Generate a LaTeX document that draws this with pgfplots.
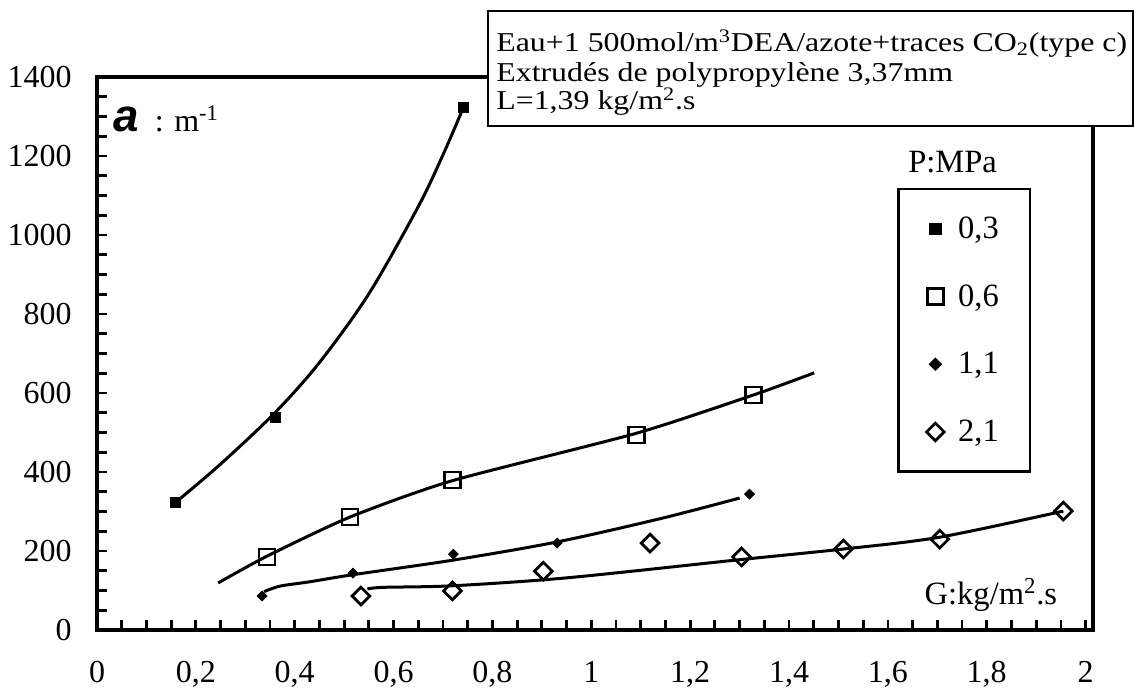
\documentclass[border=0pt]{standalone}
\usepackage{fontspec}
\setmainfont{Liberation Serif}
\newfontfamily\boxfont[FakeStretch=1.17]{Liberation Serif}
\newfontfamily\helv{Liberation Sans}
\usepackage{pgfplots}
\pgfplotsset{compat=1.18}

% 1 px of the reference = 0.2mm
\begin{document}
\begin{tikzpicture}
\path[use as bounding box] (-19.4mm,-12mm) rectangle (207.4mm,126mm);
\begin{axis}[
  scale only axis, width=199.2mm, height=110.6mm,
  xmin=0, xmax=2.015, ymin=0, ymax=1400,
  axis line style={line width=0.7mm},
  xtick={0,0.2,0.4,0.6,0.8,1,1.2,1.4,1.6,1.8,2},
  xticklabels={0,{0,2},{0,4},{0,6},{0,8},1,{1,2},{1,4},{1,6},{1,8},2},
  ytick={0,200,...,1400},
  minor x tick num=3, minor y tick num=3,
  xtick pos=bottom, ytick pos=left, tick align=inside,
  major tick length=1.9mm, minor tick length=1.9mm,
  tick style={black, line width=0.55mm},
  tick label style={font=\fontsize{18.2}{20}\selectfont},
  /pgf/number format/assume math mode=true,
  /pgf/number format/1000 sep={},
  xticklabel style={anchor=base, yshift=-10.6mm},
  yticklabel style={anchor=east, inner sep=0pt, xshift=-5mm},
  clip=false,
  legend cell align=left,
  legend style={at={(axis cs:1.619,1119)}, anchor=north west,
    draw=black, line width=0.5mm, font=\fontsize{18.5}{18.5}\selectfont,
    inner xsep=5.6mm, inner ysep=4.9mm, row sep=7.5mm, column sep=2.2mm,
    nodes={inner sep=0.6mm}},
]
% fitted curves
\addplot[forget plot, smooth, line width=0.6mm] coordinates {
  (0.158,322) (0.25,420) (0.36,550) (0.45,677) (0.55,851) (0.65,1072) (0.70,1203) (0.741,1322)};
\addplot[forget plot, smooth, tension=0.4, line width=0.6mm] coordinates {
  (0.245,119) (0.344,187) (0.512,286) (0.719,378) (1.091,498) (1.328,595) (1.451,651)};
\addplot[forget plot, smooth, line width=0.6mm] coordinates {
  (0.338,97) (0.37,111) (0.43,122) (0.518,140) (0.721,177) (0.931,223) (1.14,282) (1.30,334)};
\addplot[forget plot, smooth, line width=0.6mm] coordinates {
  (0.547,104) (0.58,108) (0.72,112) (0.95,132) (1.30,178) (1.51,205) (1.705,235) (1.955,301)};
% measured points
\addplot[only marks, mark=square*, mark size=1mm, black] coordinates {
  (0.158,322) (0.360,539) (0.741,1324)};
\addlegendentry{0,3}
\addplot[only marks, mark=square, mark size=1.6mm, black,
  mark options={fill=white, line width=0.5mm}] coordinates {
  (0.344,185) (0.512,286) (0.719,380) (1.091,494) (1.328,595)};
\addlegendentry{0,6}
\addplot[only marks, mark=square*, mark size=0.7mm, black,
  mark options={rotate=45}] coordinates {
  (0.334,86) (0.518,144) (0.721,192) (0.931,220) (1.320,344)};
\addlegendentry{1,1}
\addplot[only marks, mark=square, mark size=1.25mm, black,
  mark options={rotate=45, fill=white, line width=0.55mm}] coordinates {
  (0.534,86) (0.719,99) (0.903,149) (1.119,220) (1.304,185) (1.510,205) (1.705,230) (1.955,301)};
\addlegendentry{2,1}

\node[font=\fontsize{18.5}{20}\selectfont] at (axis cs:1.731,1185) {P:MPa};
\node[anchor=west, font=\fontsize{18.5}{20}\selectfont] at (axis cs:1.662,89)
  {G:kg/m\textsuperscript{2}.s};
\end{axis}

% ordinate label
\node[anchor=base west, inner sep=0pt, font=\fontsize{18.2}{20}\selectfont] at (3.2mm,99.6mm)
  {{\helv\bfseries\itshape\fontsize{26}{26}\selectfont a}\hspace{3.2mm}: m\textsuperscript{-1}};

% conditions box
\draw[line width=0.5mm, fill=white] (78.2mm,100.8mm) rectangle (207.2mm,123.8mm);
\begin{scope}[every node/.style={anchor=base west, inner sep=0pt,
    font=\boxfont\fontsize{15.5}{16}\selectfont}]
\node at (79.8mm,115.6mm) {Eau+1 500mol/m\textsuperscript{3}DEA/azote+traces CO\textsubscript{2}(type c)};
\node at (79.8mm,109.6mm) {Extrudés de polypropylène 3,37mm};
\node at (79.8mm,104.0mm) {L=1,39 kg/m\textsuperscript{2}.s};
\end{scope}
\end{tikzpicture}
\end{document}
